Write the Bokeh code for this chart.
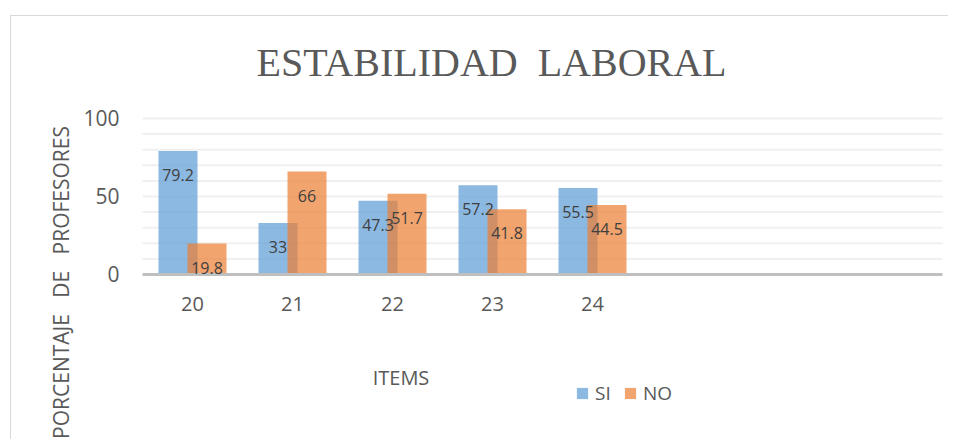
import numpy as np
from math import pi
from bokeh.plotting import figure
from bokeh.models import ColumnDataSource, FixedTicker, Range1d, Label, LabelSet
from bokeh.core.properties import value
from bokeh.embed import file_html
from bokeh.resources import INLINE

# ---- data ----
items = ["20", "21", "22", "23", "24"]
n_slots = 8  # category slots on the axis (last three empty)
si = [79.2, 33, 47.3, 57.2, 55.5]
no = [19.8, 66, 51.7, 41.8, 44.5]
y_ticks = [0, 50, 100]
grid_ticks = [10, 20, 30, 40, 50, 60, 70, 80, 90, 100]
title_text = "ESTABILIDAD\u00a0 LABORAL"
x_title = "ITEMS"
y_title = "PORCENTAJE \u00a0 DE \u00a0 PROFESORES"
series_names = ["SI", "NO"]

FONT = "Open Sans"
BLUE = "#5B9BD5"
ORANGE = "#ED7D31"
TXT = "#595959"

idx = np.arange(len(items)) + 0.5
si_x = idx - 0.145
no_x = idx + 0.145
bw = 0.39

src_si = ColumnDataSource(dict(x=si_x, top=si, t=[f"{v:g}" for v in si]))
src_no = ColumnDataSource(dict(x=no_x, top=no, t=[f"{v:g}" for v in no]))

W, H = 938, 424
p = figure(width=W, height=H, output_backend="svg", toolbar_location=None,
           x_range=Range1d(-1.31, 8.07), y_range=Range1d(-106.41, 165.38),
           min_border=0)
p.title.visible = False
p.margin = (15, 0, 0, 10)
p.styles = {"border-top": "1px solid #D9D9D9", "border-left": "1px solid #D9D9D9"}
p.outline_line_color = None
p.background_fill_color = "white"
p.border_fill_color = "white"
p.xgrid.visible = False
p.ygrid.visible = False

# horizontal gridlines over the plot area
p.segment(x0=0, x1=n_slots, y0=grid_ticks, y1=grid_ticks, line_color="#F0F0F0", line_width=2)

p.vbar(x="x", top="top", width=bw, source=src_si, fill_color=BLUE, fill_alpha=0.7,
       line_color=None, legend_label=series_names[0])
p.vbar(x="x", top="top", width=bw, source=src_no, fill_color=ORANGE, fill_alpha=0.7,
       line_color=None, legend_label=series_names[1])

for src in (src_si, src_no):
    p.add_layout(LabelSet(x="x", y="top", text="t", source=src, text_align="center",
                          text_baseline="middle", y_offset=-24, text_font=value(FONT),
                          text_font_size=value("16px"), text_color=value("#404040")))

# axes
p.xaxis.fixed_location = 0
p.xaxis.bounds = (0, n_slots)
p.xaxis.ticker = FixedTicker(ticks=list(idx))
p.xaxis.major_label_overrides = {float(x): lab for x, lab in zip(idx, items)}
p.xaxis.major_tick_line_color = None
p.xaxis.minor_tick_line_color = None
p.xaxis.major_tick_out = 0
p.xaxis.major_tick_in = 0
p.xaxis.axis_line_color = "#BFBFBF"
p.xaxis.axis_line_width = 3
p.xaxis.major_label_text_font = FONT
p.xaxis.major_label_text_font_size = "20px"
p.xaxis.major_label_text_color = TXT
p.xaxis.major_label_standoff = 23

p.yaxis.fixed_location = 0
p.yaxis.bounds = (0, 100)
p.yaxis.ticker = FixedTicker(ticks=y_ticks)
p.yaxis.axis_line_color = None
p.yaxis.major_tick_line_color = None
p.yaxis.minor_tick_line_color = None
p.yaxis.major_tick_out = 0
p.yaxis.major_tick_in = 0
p.yaxis.major_label_text_font = FONT
p.yaxis.major_label_text_font_size = "21px"
p.yaxis.major_label_text_color = TXT
p.yaxis.major_label_standoff = 23

# titles
p.add_layout(Label(x=3.49, y=135.6, text=title_text, text_align="center",
                   text_baseline="middle", text_font="Liberation Serif",
                   text_font_size="40px", text_color=TXT))
p.add_layout(Label(x=2.585, y=-66.0, text=x_title, text_align="center",
                   text_baseline="middle", text_font=FONT, text_font_size="20px",
                   text_color=TXT))
p.add_layout(Label(x=-0.82, y=-5.1, text=y_title, angle=pi / 2, text_align="center",
                   text_baseline="middle", text_font=FONT, text_font_size="21px",
                   text_color=TXT))

# legend
lg = p.legend[0]
lg.orientation = "horizontal"
lg.location = (564, 34)
lg.border_line_color = None
lg.background_fill_alpha = 0
lg.padding = 0
lg.margin = 0
lg.spacing = 8
lg.glyph_width = 14
lg.glyph_height = 14
lg.label_standoff = 6
lg.label_text_font = FONT
lg.label_text_font_size = "19px"
lg.label_text_color = TXT

open("out.html", "w").write(file_html(p, INLINE))
